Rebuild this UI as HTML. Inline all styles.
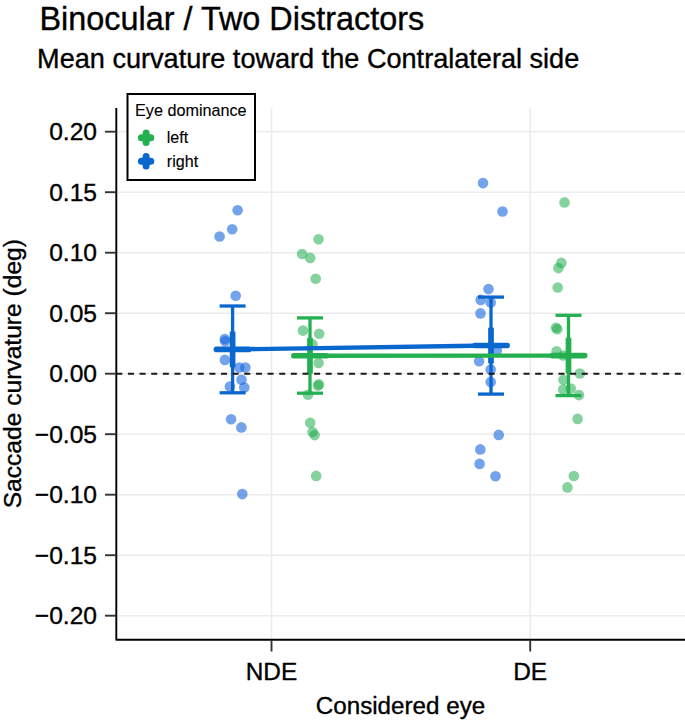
<!DOCTYPE html>
<html><head><meta charset="utf-8"><style>
html,body{margin:0;padding:0;background:#fff;width:685px;height:723px;overflow:hidden}
svg{display:block}
text{font-family:"Liberation Sans",sans-serif}
</style></head><body>
<svg width="685" height="723" viewBox="0 0 685 723"><rect width="685" height="723" fill="#fff"/><g stroke="#ececec" stroke-width="1.6"><line x1="116.3" y1="131.70" x2="685" y2="131.70"/><line x1="116.3" y1="192.20" x2="685" y2="192.20"/><line x1="116.3" y1="252.70" x2="685" y2="252.70"/><line x1="116.3" y1="313.20" x2="685" y2="313.20"/><line x1="116.3" y1="373.70" x2="685" y2="373.70"/><line x1="116.3" y1="434.20" x2="685" y2="434.20"/><line x1="116.3" y1="494.70" x2="685" y2="494.70"/><line x1="116.3" y1="555.20" x2="685" y2="555.20"/><line x1="116.3" y1="615.70" x2="685" y2="615.70"/><line x1="271.5" y1="108" x2="271.5" y2="639.8"/><line x1="530.2" y1="108" x2="530.2" y2="639.8"/></g><g fill="#1565dd" fill-opacity="0.6"><circle cx="237.6" cy="210.2" r="5.3"/><circle cx="232.2" cy="229.3" r="5.3"/><circle cx="219.6" cy="236.5" r="5.3"/><circle cx="235.7" cy="295.7" r="5.3"/><circle cx="224.8" cy="339" r="5.3"/><circle cx="225.2" cy="341.3" r="5.3"/><circle cx="224.9" cy="359.9" r="5.3"/><circle cx="239.3" cy="367.6" r="5.3"/><circle cx="245.4" cy="367.6" r="5.3"/><circle cx="241.5" cy="379.8" r="5.3"/><circle cx="229.9" cy="386.5" r="5.3"/><circle cx="244.3" cy="387.6" r="5.3"/><circle cx="231.1" cy="419.3" r="5.3"/><circle cx="241.4" cy="427.4" r="5.3"/><circle cx="242.3" cy="494.1" r="5.3"/><circle cx="483" cy="183.1" r="5.3"/><circle cx="502.5" cy="211.5" r="5.3"/><circle cx="488.5" cy="289.1" r="5.3"/><circle cx="480.7" cy="299.9" r="5.3"/><circle cx="490.7" cy="302.4" r="5.3"/><circle cx="480.5" cy="313.4" r="5.3"/><circle cx="496.8" cy="350.5" r="5.3"/><circle cx="479.1" cy="361.3" r="5.3"/><circle cx="490.7" cy="369.5" r="5.3"/><circle cx="490.7" cy="382" r="5.3"/><circle cx="498.7" cy="434.9" r="5.3"/><circle cx="480.3" cy="449.4" r="5.3"/><circle cx="479.6" cy="463.9" r="5.3"/><circle cx="495.5" cy="476.3" r="5.3"/></g><g fill="#21ad4e" fill-opacity="0.55"><circle cx="318.5" cy="239.2" r="5.3"/><circle cx="302.1" cy="254.0" r="5.3"/><circle cx="310.2" cy="257.9" r="5.3"/><circle cx="315.7" cy="278.7" r="5.3"/><circle cx="303" cy="330.6" r="5.3"/><circle cx="319.2" cy="333.7" r="5.3"/><circle cx="312.4" cy="344.3" r="5.3"/><circle cx="318.6" cy="363" r="5.3"/><circle cx="317.9" cy="385.6" r="5.3"/><circle cx="319" cy="384.4" r="5.3"/><circle cx="308" cy="394.7" r="5.3"/><circle cx="310.2" cy="422.7" r="5.3"/><circle cx="312.5" cy="432.1" r="5.3"/><circle cx="314.6" cy="435.1" r="5.3"/><circle cx="316.2" cy="475.9" r="5.3"/><circle cx="564.5" cy="202.4" r="5.3"/><circle cx="561.4" cy="262.9" r="5.3"/><circle cx="558.4" cy="268.1" r="5.3"/><circle cx="557.7" cy="287.5" r="5.3"/><circle cx="556" cy="327.8" r="5.3"/><circle cx="557.3" cy="329.2" r="5.3"/><circle cx="556.6" cy="351.3" r="5.3"/><circle cx="563.2" cy="355.5" r="5.3"/><circle cx="579.8" cy="373.5" r="5.3"/><circle cx="563.5" cy="379.8" r="5.3"/><circle cx="563.2" cy="389.5" r="5.3"/><circle cx="570.7" cy="388.6" r="5.3"/><circle cx="579" cy="395.1" r="5.3"/><circle cx="577.6" cy="418.9" r="5.3"/><circle cx="573.8" cy="476" r="5.3"/><circle cx="567.4" cy="487.4" r="5.3"/></g><g stroke="#0a67cd" fill="none"><line x1="232.6" y1="306.0" x2="232.6" y2="392.8" stroke-width="3.3"/><line x1="219.6" y1="306.0" x2="245.6" y2="306.0" stroke-width="3.3"/><line x1="219.6" y1="392.8" x2="245.6" y2="392.8" stroke-width="3.3"/><line x1="232.6" y1="331.59999999999997" x2="232.6" y2="367.2" stroke-width="5.7"/><line x1="216.4" y1="349.4" x2="248.79999999999998" y2="349.4" stroke-width="5.6" stroke-linecap="round"/></g><g stroke="#0a67cd" fill="none"><line x1="491" y1="297.1" x2="491" y2="394.1" stroke-width="3.3"/><line x1="478" y1="297.1" x2="504" y2="297.1" stroke-width="3.3"/><line x1="478" y1="394.1" x2="504" y2="394.1" stroke-width="3.3"/><line x1="491" y1="327.7" x2="491" y2="363.3" stroke-width="5.7"/><line x1="474.8" y1="345.5" x2="507.2" y2="345.5" stroke-width="5.6" stroke-linecap="round"/></g><g stroke="#24b050" fill="none"><line x1="310" y1="317.9" x2="310" y2="393.2" stroke-width="3.3"/><line x1="297" y1="317.9" x2="323" y2="317.9" stroke-width="3.3"/><line x1="297" y1="393.2" x2="323" y2="393.2" stroke-width="3.3"/><line x1="310" y1="337.9" x2="310" y2="373.5" stroke-width="5.7"/><line x1="293.8" y1="355.7" x2="326.2" y2="355.7" stroke-width="5.6" stroke-linecap="round"/></g><g stroke="#24b050" fill="none"><line x1="568.5" y1="315.3" x2="568.5" y2="395.6" stroke-width="3.3"/><line x1="555.5" y1="315.3" x2="581.5" y2="315.3" stroke-width="3.3"/><line x1="555.5" y1="395.6" x2="581.5" y2="395.6" stroke-width="3.3"/><line x1="568.5" y1="337.8" x2="568.5" y2="373.40000000000003" stroke-width="5.7"/><line x1="552.3" y1="355.6" x2="584.7" y2="355.6" stroke-width="5.6" stroke-linecap="round"/></g><line x1="232.6" y1="349.4" x2="491" y2="345.5" stroke="#0a67cd" stroke-width="4.4" stroke-linecap="round"/><line x1="310" y1="355.7" x2="568.5" y2="355.6" stroke="#24b050" stroke-width="4.4" stroke-linecap="round"/><line x1="116.3" y1="373.70" x2="685" y2="373.70" stroke="#1a1a1a" stroke-width="2" stroke-dasharray="6 5.636"/><g stroke="#000" stroke-width="1.9" fill="none" stroke-linejoin="round"><path d="M116.3 108 V639.8 H685"/><line x1="105" y1="131.70" x2="116.3" y2="131.70" stroke="#333"/><line x1="105" y1="192.20" x2="116.3" y2="192.20" stroke="#333"/><line x1="105" y1="252.70" x2="116.3" y2="252.70" stroke="#333"/><line x1="105" y1="313.20" x2="116.3" y2="313.20" stroke="#333"/><line x1="105" y1="373.70" x2="116.3" y2="373.70" stroke="#333"/><line x1="105" y1="434.20" x2="116.3" y2="434.20" stroke="#333"/><line x1="105" y1="494.70" x2="116.3" y2="494.70" stroke="#333"/><line x1="105" y1="555.20" x2="116.3" y2="555.20" stroke="#333"/><line x1="105" y1="615.70" x2="116.3" y2="615.70" stroke="#333"/><line x1="271.5" y1="639.8" x2="271.5" y2="651.5" stroke="#333"/><line x1="530.2" y1="639.8" x2="530.2" y2="651.5" stroke="#333"/></g><g font-family="Liberation Sans, sans-serif" fill="#000" stroke="#000" stroke-width="0.35"><text x="97" y="140.00" font-size="24.6" text-anchor="end">0.20</text><text x="97" y="200.50" font-size="24.6" text-anchor="end">0.15</text><text x="97" y="261.00" font-size="24.6" text-anchor="end">0.10</text><text x="97" y="321.50" font-size="24.6" text-anchor="end">0.05</text><text x="97" y="382.00" font-size="24.6" text-anchor="end">0.00</text><text x="97" y="442.50" font-size="24.6" text-anchor="end">−0.05</text><text x="97" y="503.00" font-size="24.6" text-anchor="end">−0.10</text><text x="97" y="563.50" font-size="24.6" text-anchor="end">−0.15</text><text x="97" y="624.00" font-size="24.6" text-anchor="end">−0.20</text><text x="271.5" y="679.9" font-size="24.4" text-anchor="middle">NDE</text><text x="530.2" y="679.9" font-size="24.4" text-anchor="middle">DE</text><text x="400.5" y="714.2" font-size="24.2" text-anchor="middle">Considered eye</text><text transform="translate(21,373.7) rotate(-90)" font-size="24.6" text-anchor="middle">Saccade curvature (deg)</text><text x="39.5" y="29.5" font-size="32.4">Binocular / Two Distractors</text><text x="37.1" y="67.9" font-size="27.1">Mean curvature toward the Contralateral side</text><rect x="127.5" y="94.0" width="127.5" height="86" fill="#fff" stroke="#000" stroke-width="2"/><text x="135" y="115.5" font-size="16.2" stroke-width="0.12">Eye dominance</text><text x="166.8" y="142.8" font-size="16.1" stroke-width="0.12">left</text><text x="166.8" y="166.7" font-size="16.1" stroke-width="0.12">right</text></g><g stroke="#24b050" stroke-width="7" stroke-linecap="round"><line x1="141.4" y1="137.8" x2="150.79999999999998" y2="137.8"/><line x1="146.1" y1="133.10000000000002" x2="146.1" y2="142.5"/></g><g stroke="#0a67cd" stroke-width="7" stroke-linecap="round"><line x1="141.4" y1="161.2" x2="150.79999999999998" y2="161.2"/><line x1="146.1" y1="156.5" x2="146.1" y2="165.89999999999998"/></g></svg>
</body></html>
